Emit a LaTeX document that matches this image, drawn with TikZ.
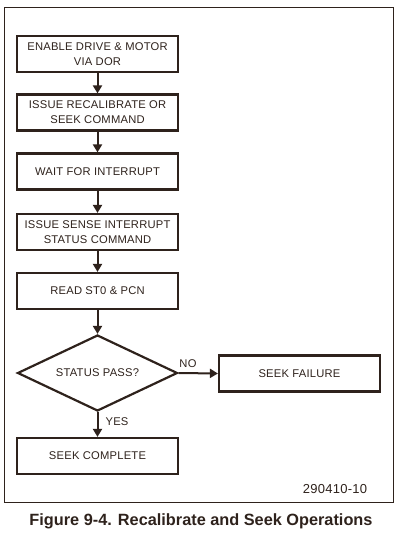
\documentclass[tikz,border=0pt]{standalone}
\usepackage{fontspec}
\setmainfont{Liberation Sans}
\newfontfamily\boxfont[LetterSpace=2]{Liberation Sans}
\usetikzlibrary{shapes.geometric,arrows.meta}
\definecolor{ink}{HTML}{2E221C}
\tikzset{
  x=1pt,y=-1pt,
  stepbox/.style={draw=ink,line width=2.2pt,rectangle,minimum width=161pt,minimum height=36pt,
    inner sep=0pt,align=center,text=ink,font=\boxfont\fontsize{11.2}{15}\selectfont},
  decbox/.style={draw=ink,line width=2.2pt,diamond,aspect=2.1,minimum width=160pt,minimum height=76pt,
    inner sep=0pt,align=center,text=ink,font=\boxfont\fontsize{11.2}{15}\selectfont},
  flow/.style={draw=ink,line width=2pt,-{Triangle[length=8pt,width=9pt]}},
  lbl/.style={text=ink,font=\boxfont\fontsize{11.2}{13}\selectfont,inner sep=0pt},
}
\begin{document}
\begin{tikzpicture}
\useasboundingbox (0,0) rectangle (401,534);
\draw[draw=ink,line width=1pt] (4,8) rectangle (393,502);
\node[stepbox] (b1) at (97.5,54) {ENABLE DRIVE \& MOTOR\\VIA DOR};
\node[stepbox] (b2) at (97.5,112.5) {ISSUE RECALIBRATE OR\\SEEK COMMAND};
\node[stepbox] (b3) at (97.5,171.5) {WAIT FOR INTERRUPT};
\node[stepbox] (b4) at (97.5,232) {ISSUE SENSE INTERRUPT\\STATUS COMMAND};
\node[stepbox] (b5) at (97.5,291) {READ ST0 \& PCN};
\node[decbox] (d) at (97.5,373) {STATUS PASS?};
\node[stepbox] (fail) at (299.5,373.5) {SEEK FAILURE};
\node[stepbox] (ok) at (97.5,456) {SEEK COMPLETE};
\draw[flow] (b1) -- (b2);
\draw[flow] (b2) -- (b3);
\draw[flow] (b3) -- (b4);
\draw[flow] (b4) -- (b5);
\draw[flow] (b5) -- (d);
\draw[flow] (d.east) -- (fail.west);
\draw[flow] (d.south) -- (ok.north);
\node[lbl] (no) at (188,364) {NO};
\node[lbl] (yes) at (117,422) {YES};
\node[lbl,font=\boxfont\fontsize{13}{15}\selectfont] (code) at (335,489) {290410-10};
\node[text=ink,font=\bfseries\fontsize{16.3}{18}\selectfont,inner sep=0pt] (cap) at (201,521)
  {Figure 9-4. Recalibrate and Seek Operations};
\end{tikzpicture}
\end{document}
